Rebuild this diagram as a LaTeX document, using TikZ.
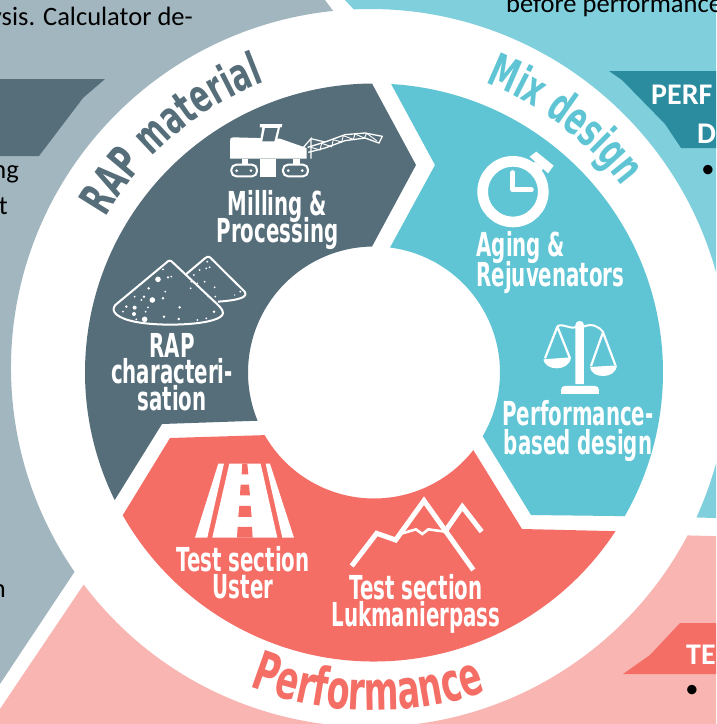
\documentclass[tikz,border=0pt]{standalone}
\usepackage{fontspec}
\setmainfont{Carlito}
\newfontfamily\agency[FakeStretch=0.60]{DejaVu Sans}
\newfontfamily\agencyarc[FakeStretch=0.62]{DejaVu Sans}
\usetikzlibrary{decorations.text}
\lineskiplimit=-100pt
\definecolor{slate}{HTML}{566E7A}
\definecolor{slatelight}{HTML}{A2B6BF}
\definecolor{teal}{HTML}{5FC5D4}
\definecolor{teallight}{HTML}{80CFDC}
\definecolor{tealdark}{HTML}{2A8C9E}
\definecolor{coral}{HTML}{F56E66}
\definecolor{coralight}{HTML}{F9B5B1}
\tikzset{
  lab/.style={font=\agency\bfseries\fontsize{33}{26.5}\selectfont,text=white,align=center,inner sep=0pt,anchor=base},
  body/.style={font=\fontsize{26.5}{26.5}\selectfont,text=black,inner sep=0pt},
  heading/.style={font=\bfseries\fontsize{30}{30}\selectfont,text=white,inner sep=0pt},
  arclab/.style={decorate,decoration={text along path,text align={fit to path},text={#1}}}
}
\begin{document}
\begin{tikzpicture}[x=1pt,y=1pt]
\clip (0,0) rectangle (716,-724);
\fill[white] (0,0) rectangle (716,-724);
\coordinate (c) at (374,-372.5);
\coordinate (o) at (370,-368);
% background panels
\fill[slatelight] (-10,10) -- (325,10) -- (325,0) -- ([shift={(95.9:359)}]o) arc[start angle=95.9,end angle=214.6,radius=359] -- (-10,-699) -- cycle;
\fill[teallight] (345,0) -- ([shift={(92.6:359)}]o) arc[start angle=92.6,end angle=-24.6,radius=359] -- (730,-518.5) -- (730,0) -- cycle;
\fill[coralight] ([shift={(217.1:359)}]o) arc[start angle=217.1,end angle=332.2,radius=359] -- (730,-536.5) -- (730,-740) -- (-10,-740) -- (-10,-723.8) -- cycle;
% heading tabs
\fill[slate] (-10,-79) -- (105,-79) -- (83,-98) -- (39,-156) -- (-10,-156) -- cycle;
\fill[tealdark] (609,-71) -- (730,-71) -- (730,-148) -- (681,-148) -- (665,-124) -- (622,-80) -- cycle;
\fill[coral] (680,-623) -- (730,-623) -- (730,-674) -- (623,-674) -- (650,-655) -- cycle;
% body text
\node[body,anchor=base east] (t1) at (193,-25) {ysis. Calculator de-};
\node[body,anchor=base east] (t2) at (19,-178) {ng};
\node[body,anchor=base east] (t3) at (8,-214) {t};
\node[body,anchor=base east] (t4) at (6,-597) {n};
\node[body,anchor=base west] (t5) at (506,-12) {before performance};
\node[heading,anchor=base west] (h1) at (651,-104) {PERF};
\node[heading,anchor=base west] (h2) at (697,-143) {D};
\node[heading,anchor=base west] (h3) at (686,-664) {TE};
\node[body,anchor=center] (b1) at (708,-171) {•};
\node[body,anchor=center] (b2) at (692,-691) {•};
% wedges
\fill[slate] ([shift={(90.4:289)}]c) arc[start angle=90.4,end angle=206.2,radius=289] -- (162,-424) -- ([shift={(202.5:126)}]c) arc[start angle=202.5,end angle=90.9,radius=126] -- (416,-165) -- cycle;
\fill[teal] ([shift={(86.6:289)}]c) arc[start angle=86.6,end angle=-29.8,radius=289] -- (531,-515) -- ([shift={(-30.4:126)}]c) arc[start angle=-30.4,end angle=82.7,radius=126] -- (435,-165) -- cycle;
\fill[coral] (170,-438) -- ([shift={(209.8:126)}]c) arc[start angle=209.8,end angle=322,radius=126] -- (522,-529) -- ([shift={(326.7:289)}]c) arc[start angle=326.7,end angle=209.6,radius=289] -- cycle;
% ring titles
\path[arclab={|\agencyarc\bfseries\fontsize{46}{46}\selectfont\color{slate}|RAP material}] ([shift={(150:310)}]c) arc[start angle=150,end angle=110.6,radius=310];
\path[arclab={|\agencyarc\bfseries\fontsize{46}{46}\selectfont\color{teal}|Mix design}] ([shift={(69:310)}]c) arc[start angle=69,end angle=38,radius=310];
\path[arclab={|\agencyarc\bfseries\fontsize{54}{54}\selectfont\color{coral}|Performance}] ([shift={(248.4:338)}]c) arc[start angle=248.4,end angle=289,radius=338];
% labels
\node[lab] (l1) at (277.5,-242) {Milling \&\\Processing};
\node[lab] (l2) at (172,-410) {RAP\\characteri-\\sation};
\node[lab,align=left,font=\agency\bfseries\fontsize{33}{30}\selectfont] (l3) at (550.5,-286) {Aging \&\\Rejuvenators};
\node[lab,font=\agency\bfseries\fontsize{33}{29}\selectfont] (l4) at (578,-454) {Performance-\\based design};
\node[lab] (l5) at (243,-598) {Test section\\Uster};
\node[lab] (l6) at (416,-626) {Test section\\Lukmanierpass};
% milling machine (zoom coordinates)
\begin{scope}[shift={(225,-118)},x=0.3333pt,y=-0.3333pt]
 \fill[white] (15,122) -- (15,68) .. controls (15,60) and (18,58) .. (25,58) -- (165,62) -- (245,90) -- (245,122) -- cycle;
 \fill[white] (105,18) -- (172,18) -- (170,28) -- (165,28) -- (155,72) -- (105,72) -- (112,28) -- (105,28) -- cycle;
 \fill[slate] (120,30) -- (158,30) -- (148,70) -- (112,70) -- cycle;
 \fill[white] (105,122) rectangle (152,178);
 \fill[white] (50,122) rectangle (70,140);
 \fill[white] (205,122) rectangle (225,140);
 \draw[white,line width=2pt,rounded corners=5pt] (19,140) rectangle (96,175);
 \draw[white,line width=2pt,rounded corners=5pt] (174,140) rectangle (249,175);
 \foreach \p in {(35,158),(78,158),(190,158),(232,158)} \fill[white] \p circle[radius=1.5pt];
 \draw[white,line width=1.2pt] (235,88) -- (258,62) -- (258,122);
 \draw[white,line width=1.2pt] (258,62) -- (300,72);
 \draw[white,line width=1.3pt] (248,88) -- (300,72) -- (360,50) -- (420,45) -- (472,55) -- (462,75) -- (420,60) -- (360,68) -- (300,90) -- (250,103);
 \draw[white,line width=0.9pt] (258,88) -- (285,96) -- (290,76) -- (320,86) -- (325,65) -- (350,72) -- (355,53) -- (385,64) -- (390,48) -- (418,60) -- (425,46) -- (455,68);
\end{scope}
% piles
\begin{scope}[shift={(108,-250)},x=0.3333pt,y=-0.3333pt]
 \draw[white,line width=2pt,line join=round] (235,72) -- (292,24) .. controls (300,18) and (306,20) .. (312,28) -- (410,125) .. controls (420,140) and (400,150) .. (330,155);
 \fill[slate] (175,38) -- (22,165) .. controls (5,185) and (30,205) .. (80,215) .. controls (160,232) and (340,225) .. (345,190) .. controls (345,178) and (335,170) .. (325,160) -- (195,38) .. controls (188,30) and (182,30) .. (175,38) -- cycle;
 \draw[white,line width=2pt] (175,38) -- (22,165) .. controls (5,185) and (30,205) .. (80,215) .. controls (160,232) and (340,225) .. (345,190) .. controls (345,178) and (335,170) .. (325,160) -- (195,38) .. controls (188,30) and (182,30) .. (175,38) -- cycle;
 \foreach \x/\y/\r in {150/88/2.8,133/150/2.8,180/82/1.3,190/80/1,165/58/1,122/115/1.4,172/125/1,108/140/1.4,100/150/1,165/145/1.4,80/140/1,215/172/1.4,80/173/2,55/170/1.4,78/192/2,113/185/1,110/208/2.8,45/185/1,168/200/1.4,212/207/1.4,318/185/1.4,268/210/1,295/205/1,85/208/1,120/172/1,298/35/1,305/52/1,295/55/1,275/60/1,258/75/1,250/95/1,268/100/1,290/95/1,248/115/1,320/112/1,322/140/1,300/140/0.7,397/125/1,380/135/0.7}
  \fill[white] (\x,\y) circle[radius=\r pt];
\end{scope}
% stopwatch
\begin{scope}[shift={(358,0)},x=0.3333pt,y=-0.3333pt]
 \draw[white,line width=10.7pt] (465,575) circle[radius=30.3pt];
 \fill[white] (515,470) -- (535,455) -- (587,497) -- (570,520) -- cycle;
 \fill[white] (530,485) -- (555,505) -- (545,525) -- (515,500) -- cycle;
 \draw[white,line width=5pt,line cap=round,line join=round] (465,518) -- (465,570) -- (520,570);
\end{scope}
% scales
\begin{scope}[shift={(535,-315)},x=0.3333pt,y=-0.3333pt]
 \fill[white] (121,207) -- (121,30) .. controls (121,14) and (147,14) .. (147,30) -- (147,207) -- cycle;
 \fill[white] (78,237) -- (78,225) .. controls (78,217) and (82,213) .. (90,213) -- (180,213) .. controls (188,213) and (192,217) .. (192,225) -- (192,237) -- cycle;
 \draw[white,line width=2pt] (67,33) .. controls (90,25) and (105,45) .. (125,35);
 \draw[white,line width=2pt] (145,35) .. controls (170,25) and (190,32) .. (205,52);
 \draw[white,line width=2.2pt,line join=round] (30,130) -- (67,35) -- (105,130);
 \draw[white,line width=2.2pt,line join=round] (168,153) -- (204,52) -- (241,150);
 \fill[white] (25,133) -- (108,127) .. controls (105,150) and (85,160) .. (65,160) .. controls (45,160) and (28,150) .. (25,133) -- cycle;
 \fill[white] (165,156) -- (246,151) .. controls (243,173) and (225,183) .. (205,183) .. controls (185,183) and (168,175) .. (165,156) -- cycle;
\end{scope}
% road
\begin{scope}[shift={(0,-362)},x=0.3333pt,y=-0.3333pt]
 \fill[white] (655,305) -- (672,305) -- (622,527) -- (585,527) -- cycle;
 \fill[white] (797,305) -- (810,305) -- (882,527) -- (847,527) -- cycle;
 \fill[white] (688,305) -- (782,305) -- (832,527) -- (637,527) -- cycle;
 \fill[coral] (727,305) -- (742,305) -- (745,337) -- (725,337) -- cycle;
 \fill[coral] (722,368) -- (747,368) -- (750,400) -- (720,400) -- cycle;
 \fill[coral] (718,432) -- (752,432) -- (755,465) -- (715,465) -- cycle;
 \fill[coral] (713,495) -- (756,495) -- (758,527) -- (711,527) -- cycle;
\end{scope}
% mountains
\begin{scope}[shift={(345,-490)},x=0.3333pt,y=-0.3333pt]
 \draw[white,line width=5pt,miter limit=6] (20,228) -- (95,130) -- (152,150) -- (237,32) -- (385,240);
 \draw[white,line width=5pt,miter limit=6] (300,125) -- (352,50) -- (410,125);
 \draw[white,line width=2.6pt] (172,130) -- (213,118) -- (232,132) -- (250,118) -- (300,125);
\end{scope}
\end{tikzpicture}
\end{document}
